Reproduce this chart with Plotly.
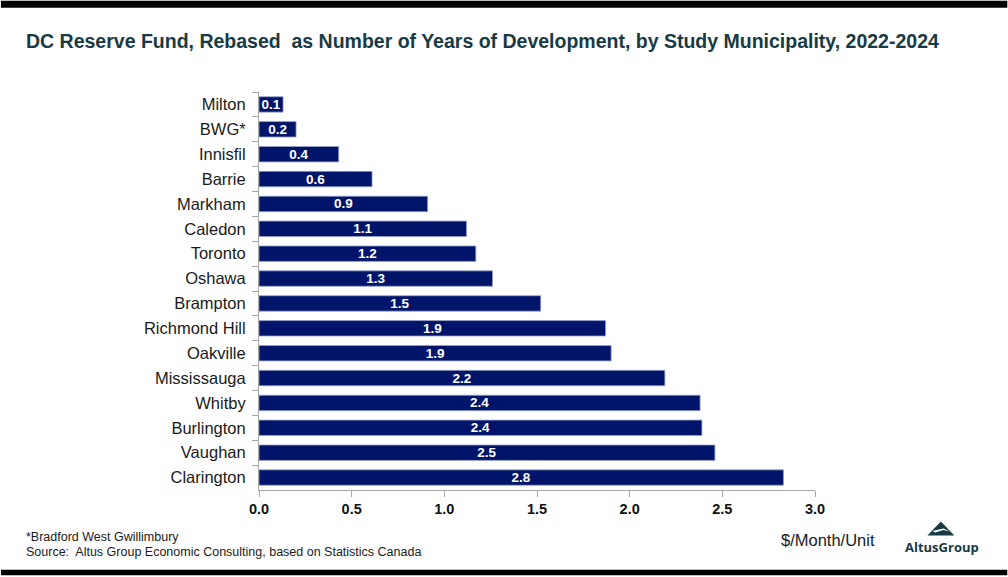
import plotly.graph_objects as go

# Municipalities, top to bottom as displayed
municipalities = [
    "Milton", "BWG*", "Innisfil", "Barrie", "Markham", "Caledon", "Toronto",
    "Oshawa", "Brampton", "Richmond Hill", "Oakville", "Mississauga",
    "Whitby", "Burlington", "Vaughan", "Clarington",
]
# DC reserve fund expressed as number of years of development
years_of_development = [
    0.13, 0.20, 0.43, 0.61, 0.91, 1.12, 1.17, 1.26, 1.52, 1.87, 1.90, 2.19,
    2.38, 2.39, 2.46, 2.83,
]
x_ticks = [0.0, 0.5, 1.0, 1.5, 2.0, 2.5, 3.0]

W, H = 1008, 577
L, R, T, B = 258.5, 815.4, 91.5, 490.5  # plot area in pixels


def px(x):
    return (x - L) / (R - L)


def py(y):
    return (B - y) / (B - T)


NAVY = "#00156A"
TEAL = "#173A45"
FONT = "Liberation Sans, Arial, sans-serif"

fig = go.Figure(
    go.Bar(
        x=years_of_development,
        y=municipalities,
        orientation="h",
        width=0.62,
        marker=dict(color=NAVY, line=dict(color="#9AA3CC", width=0.8)),
        texttemplate="%{x:.1f}",
        textposition="inside",
        insidetextanchor="middle",
        textfont=dict(family=FONT, size=13.5, color="white", weight="bold"),
        cliponaxis=False,
        hoverinfo="skip",
    )
)

fig.update_layout(
    width=W,
    height=H,
    margin=dict(l=L, r=W - R, t=T, b=H - B, pad=0),
    paper_bgcolor="white",
    plot_bgcolor="white",
    showlegend=False,
    bargap=0.38,
    uniformtext=dict(minsize=13.5, mode="show"),
    font=dict(family=FONT, color="#1a1a1a"),
)

fig.update_xaxes(
    range=[0, 3],
    tickvals=x_ticks,
    ticktext=[f"{v:.1f}" for v in x_ticks],
    showgrid=False,
    zeroline=False,
    showline=True,
    linecolor="#A6A6A6",
    linewidth=1,
    ticks="outside",
    ticklen=6,
    tickcolor="#A6A6A6",
    tickfont=dict(family=FONT, size=14.5, color="#111111", weight="bold"),
)
fig.update_yaxes(
    categoryorder="array",
    categoryarray=municipalities,
    autorange="reversed",
    showgrid=False,
    zeroline=False,
    showline=True,
    linecolor="#A6A6A6",
    linewidth=1,
    ticks="outside",
    tickson="boundaries",
    ticklen=6,
    tickcolor="#A6A6A6",
    ticklabelstandoff=9,
    tickfont=dict(family=FONT, size=16.5, color="#1a1a1a"),
)

shapes = [
    # black rules at top and bottom of the page
    dict(type="rect", xref="paper", yref="paper", x0=px(0), x1=px(W),
         y0=py(0), y1=py(7), fillcolor="black", line=dict(width=0), layer="above"),
    dict(type="rect", xref="paper", yref="paper", x0=px(0), x1=px(W),
         y0=py(570.5), y1=py(576), fillcolor="black", line=dict(width=0), layer="above"),
    # logo mark
    dict(type="path", xref="paper", yref="paper",
         path=f"M {px(928)},{py(536)} L {px(941.5)},{py(522)} L {px(955)},{py(536)} Z",
         fillcolor=TEAL, line=dict(width=0)),
    dict(type="path", xref="paper", yref="paper",
         path=(f"M {px(933)},{py(531.5)} L {px(944)},{py(529)} L {px(951)},{py(532)} "
               f"L {px(944)},{py(530.5)} L {px(936)},{py(533)} Z"),
         fillcolor="white", line=dict(width=0)),
]

annotations = [
    dict(text="<b>DC Reserve Fund, Rebased  as Number of Years of Development, by Study Municipality, 2022-2024</b>",
         x=px(23), y=py(40), xanchor="left", yanchor="middle",
         font=dict(family=FONT, size=19.5, color=TEAL)),
    dict(text="*Bradford West Gwillimbury",
         x=px(23), y=py(538), xanchor="left", yanchor="middle",
         font=dict(family=FONT, size=12.5, color="#1a1a1a")),
    dict(text="Source:  Altus Group Economic Consulting, based on Statistics Canada",
         x=px(23), y=py(553), xanchor="left", yanchor="middle",
         font=dict(family=FONT, size=12.5, color="#1a1a1a")),
    dict(text="$/Month/Unit",
         x=px(828.5), y=py(541), xanchor="center", yanchor="middle",
         font=dict(family=FONT, size=16.5, color="#1a1a1a")),
    dict(text="<b>AltusGroup</b>",
         x=px(942.5), y=py(548), xanchor="center", yanchor="middle",
         font=dict(family="Open Sans, sans-serif", size=13, color=TEAL)),
]
for a in annotations:
    a.update(xref="paper", yref="paper", showarrow=False)

fig.update_layout(shapes=shapes, annotations=annotations)

fig.write_html("out.html")
